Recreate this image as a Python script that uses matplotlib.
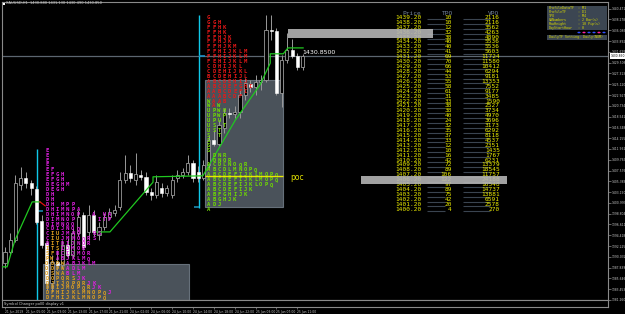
import matplotlib
matplotlib.use('Agg')
import matplotlib.pyplot as plt
from matplotlib.patches import Rectangle, Circle

# XAUUSD H1 bars (bar 0 = 21 Jun 01:00)
opens = [1388.8, 1391.0, 1393.5, 1404.6, 1406.1, 1405.0, 1403.8, 1397.3, 1392.8, 1384.7,
         1389.0, 1388.4, 1392.4, 1390.4, 1394.9, 1398.5, 1395.1, 1398.5, 1394.5, 1396.1,
         1398.1, 1398.9, 1400.2, 1405.7, 1407.1, 1405.7, 1406.7, 1406.3, 1403.2, 1402.6,
         1404.0, 1403.0, 1402.6, 1406.1, 1406.7, 1407.3, 1409.1, 1407.3, 1406.1, 1408.7,
         1413.8, 1412.9, 1416.2, 1419.3, 1419.1, 1419.5, 1422.9, 1425.2, 1424.6, 1425.6,
         1426.0, 1436.1, 1435.9, 1423.3, 1430.0, 1432.1, 1430.9, 1428.6]
highs = [1392.0, 1394.9, 1406.7, 1408.3, 1407.3, 1405.7, 1404.4, 1398.5, 1393.5, 1390.4,
         1391.4, 1393.5, 1393.9, 1395.9, 1399.6, 1399.1, 1400.6, 1399.6, 1397.1, 1398.9,
         1400.0, 1400.6, 1407.3, 1410.7, 1408.7, 1411.1, 1407.7, 1407.3, 1404.0, 1406.7,
         1405.0, 1404.6, 1406.7, 1407.7, 1408.1, 1410.7, 1409.7, 1408.5, 1409.7, 1414.8,
         1415.8, 1417.8, 1420.3, 1420.3, 1420.7, 1423.9, 1426.4, 1426.0, 1427.0, 1427.0,
         1439.2, 1439.2, 1436.5, 1431.0, 1435.5, 1434.3, 1431.5, 1431.3]
lows = [1387.8, 1390.6, 1393.1, 1403.6, 1404.0, 1402.6, 1396.7, 1391.8, 1383.3, 1382.9,
        1387.4, 1387.8, 1389.8, 1389.8, 1394.3, 1391.4, 1393.5, 1394.3, 1393.5, 1395.5,
        1397.5, 1398.3, 1399.6, 1405.0, 1405.2, 1404.6, 1405.7, 1402.6, 1401.6, 1402.0,
        1402.2, 1402.4, 1402.0, 1405.2, 1406.1, 1406.7, 1405.2, 1405.2, 1405.7, 1408.1,
        1412.5, 1412.5, 1415.2, 1418.3, 1418.3, 1418.3, 1421.9, 1423.5, 1422.9, 1423.9,
        1425.6, 1434.1, 1422.9, 1420.5, 1429.4, 1430.4, 1428.0, 1428.0]
closes = [1391.0, 1393.5, 1405.0, 1406.1, 1405.0, 1404.0, 1397.1, 1392.4, 1384.7, 1389.0,
          1388.4, 1392.4, 1390.4, 1394.9, 1398.1, 1392.0, 1398.5, 1395.1, 1396.1, 1398.1,
          1399.1, 1399.6, 1405.7, 1407.1, 1406.1, 1406.9, 1406.3, 1403.2, 1402.6, 1405.2,
          1403.0, 1404.0, 1405.7, 1406.7, 1407.3, 1409.1, 1406.1, 1406.1, 1408.7, 1413.8,
          1412.9, 1416.8, 1419.3, 1419.1, 1419.5, 1422.9, 1425.4, 1424.6, 1425.6, 1426.0,
          1436.1, 1435.9, 1423.3, 1430.0, 1432.1, 1430.9, 1428.6, 1430.85]
last_price = 1430.85

time_ticks = [0, 4, 8, 12, 16, 20, 24, 28, 32, 36, 40, 44, 48, 52, 56]
time_labels = ['21 Jun 2019', '21 Jun 05:00', '21 Jun 09:00', '21 Jun 13:00', '21 Jun 17:00',
               '21 Jun 21:00', '24 Jun 02:00', '24 Jun 06:00', '24 Jun 10:00', '24 Jun 14:00',
               '24 Jun 18:00', '24 Jun 22:00', '25 Jun 03:00', '25 Jun 07:00', '25 Jun 11:00']
price_ticks = [1381.260, 1383.453, 1385.646, 1387.839, 1390.032, 1392.225, 1394.418,
               1396.611, 1398.804, 1400.997, 1403.190, 1405.383, 1407.576, 1409.769,
               1411.962, 1414.155, 1416.348, 1418.541, 1420.734, 1422.927, 1425.120,
               1427.313, 1429.506, 1431.699, 1433.892, 1436.085, 1438.278, 1440.471]

# trailing line (green), short red piece
trail_a_x = [-0.6, 0.4, 1.9, 5.2, 6.7]
trail_a_y = [1388.0, 1388.0, 1393.4, 1401.2, 1401.2]
trail_red_x = [6.7, 7.7]
trail_red_y = [1401.2, 1400.4]
trail_b_x = [17.6, 20.1, 28.35, 28.35, 37.9, 44.1, 48.85, 50.8, 50.8, 53.3, 54.2, 57.1]
trail_b_y = [1395.1, 1395.1, 1405.2, 1406.3, 1406.5, 1417.8, 1425.0, 1429.4, 1431.3,
             1431.3, 1432.5, 1432.5]

# market profile letters: left day (upper = magenta, lower = orange)
left_top = 1412.2
left_col0 = 8
left_rows = ['E', 'E', 'E', 'E', 'EF', 'EFGH', 'EFGH', 'DEGHM', 'DEGH', 'DH', 'DH',
             'DH MPP', 'DHIMNPA', 'DHIMNOP  A UA', 'DIMNOP    ITP', 'DIMNOQ', 'CDIJNOQ',
             'CiuJMNO  RS', 'CiuJMNOQRS', 'DitDIJNOR', 'itsIJMOR', 'sfBCIJMOR',
             'pwABJKLMQ', 'odpwABJKLM', 'odpwADLM', 'oswaBLM', 'dopqrsJK',
             'djijopqrJK', 'dhijmopqrJK', 'dfhijklmnopqJ', 'dfhijklmnopq']
# right day (upper = red, lower = green)
right_top = 1439.2
right_col0 = 39
right_rows = ['G', 'GGH', 'FFHK', 'FFHK', 'FFHJK', 'FFHJK', 'FFHJKM', 'FFHIJKLM',
              'FFHIJKLM', 'FEHIJKLM', 'CDHIJKL', 'CDEHIJKL', 'BCDEHIJL', 'ABCDEHIJ',
              'ABCDEFGHI', 'AABCDEFI', 'AAABCDF', 'wAAB', 'wAw', 'upwh', 'upwp', 'upu',
              'us t', 'ust', 's t', 's', 's', 's', ' dnr', ' dnqr', 'acdlnoqr',
              'abcdlmnopq', 'abcdefijklmopq', 'abcdefijklmopq', 'abcdefijklopq',
              'abcdefijk', 'abfghijk', 'abghjk', 'adj', 'a']

# value areas (bar from, bar to, price low, price high)
va_left = (7.3, 35.2, 1381.26, 1388.6)
va_right = (38.3, 53.3, 1400.16, 1425.97)
poc_price = 1406.45

# profile table
tbl_price = [1439.20, 1438.20, 1437.20, 1436.20, 1435.20, 1434.20, 1433.20, 1432.20,
             1431.20, 1430.20, 1429.20, 1428.20, 1427.20, 1426.20, 1425.20, 1424.20,
             1423.20, 1422.20, 1421.20, 1420.20, 1419.20, 1418.20, 1417.20, 1416.20,
             1415.20, 1414.20, 1413.20, 1412.20, 1411.20, 1410.20, 1409.20, 1408.20,
             1407.20, 1406.20, 1405.20, 1404.20, 1403.20, 1402.20, 1401.20, 1400.20]
tbl_tpo = [10, 10, 12, 32, 38, 40, 40, 41, 69, 70, 66, 44, 53, 55, 58, 61, 31, 33, 38, 38,
           40, 24, 32, 35, 37, 33, 12, 10, 16, 42, 72, 89, 106, 122, 97, 89, 75, 42, 20, 4]
tbl_vpo = [2116, 2116, 3562, 4263, 4890, 5536, 5536, 5603, 11724, 11580, 10412, 6294,
           9181, 13353, 7552, 9177, 3485, 1590, 2527, 3734, 4970, 3696, 3173, 6292, 8118,
           4537, 2351, 1435, 1767, 6231, 13379, 18545, 11757, 24188, 16548, 14737, 13881,
           6591, 2578, 270]

info_keys = ['ProfileDataTF', 'ProfileTF', 'TPO', 'VANumbers', 'RowHeight', 'DayStartHour']
info_vals = [': M1', ': D1', ': M4', ': 2 Bar(s)', ': 10 Pip(s)', ': 0']
dot_colors = ['#3050ff', '#ff20a0', '#3050ff', '#3050ff', '#ff20a0', '#3050ff']

W, H = 625, 314
fig = plt.figure(figsize=(6.25, 3.14), dpi=100, facecolor='black')


def fx(px):
    return px / W


def fy(py):
    return 1 - py / H


ax = fig.add_axes([fx(2), fy(300), fx(606), 298 / H])
ax.set_facecolor('black')
ax.set_xlim(-0.575, 115.5)
ax.set_ylim(1381.26, 1441.83)
for s in ax.spines.values():
    s.set_color('#8a8a8a')
    s.set_linewidth(0.8)
ax.set_xticks([])
ax.yaxis.tick_right()
ax.set_yticks(price_ticks)
ax.set_yticklabels(['%.3f' % v for v in price_ticks])
ax.tick_params(axis='y', colors='#8a8a8a', labelcolor='#c8c8c8', labelsize=2.2,
               length=2, width=0.5, pad=0.8)

# value area boxes
for x0, x1, y0, y1 in (va_left, va_right):
    ax.add_patch(Rectangle((x0, y0), x1 - x0, y1 - y0, facecolor='#4a525a',
                           edgecolor='#66707a', lw=0.8, zorder=1))

# current price line
ax.axhline(last_price, color='#5c6670', lw=0.9, zorder=2)

# day separators
ax.vlines(37.16, 1399.96, 1439.18, color='#10c8e8', lw=1, zorder=2)
ax.vlines(6.13, 1381.26, 1411.95, color='#10c8e8', lw=1, zorder=2)
ax.hlines(last_price, 37.16, 38.3, color='#1a90c8', lw=1.2, zorder=2)
ax.hlines(1400.16, 36.2, 37.16, color='#1a8ab0', lw=1.2, zorder=2)
ax.hlines(1399.35, 6.3, 7.3, color='#1a8ab0', lw=1.2, zorder=2)

# candles
for i in range(len(opens)):
    o, h, l, c = opens[i], highs[i], lows[i], closes[i]
    ax.vlines(i, l, h, color='#9a9a9a', lw=0.7, zorder=3)
    lo, hi = min(o, c), max(o, c)
    if hi - lo < 0.2:
        hi = lo + 0.2
    if c < o:
        ax.add_patch(Rectangle((i - 0.3, lo), 0.6, hi - lo, facecolor='white',
                               edgecolor='white', lw=0.4, zorder=3))
    else:
        ax.add_patch(Rectangle((i - 0.3, lo), 0.6, hi - lo, facecolor='black',
                               edgecolor='#9a9a9a', lw=0.6, zorder=3))

# trailing line
ax.plot(trail_a_x, trail_a_y, color='#20c820', lw=0.9, zorder=4)
ax.plot(trail_red_x, trail_red_y, color='#e01010', lw=0.9, zorder=4)
ax.plot(trail_b_x, trail_b_y, color='#20c820', lw=0.9, zorder=4)


def draw_profile(rows, top, col0, c_up, c_low):
    for r, s in enumerate(rows):
        p = top - r - 0.5
        for k, ch in enumerate(s):
            if ch == ' ':
                continue
            ax.text(col0 + k, p, ch.upper(), color=c_up if ch.isupper() else c_low,
                    fontsize=4, fontweight='bold', family='DejaVu Sans Mono',
                    ha='center', va='center', zorder=5)


draw_profile(left_rows, left_top, left_col0, '#e020e0', '#e0a020')
draw_profile(right_rows, right_top, right_col0, '#e81818', '#70dc00')

# POC line
ax.hlines(poc_price, va_right[0], va_right[1], color='#e8e800', lw=1, zorder=6)
ax.text(54.6, poc_price - 0.2, 'poc', color='#e0e000', fontsize=5.5, ha='left',
        va='center', zorder=6)

ax.text(57, last_price + 0.2, '1430.8500', color='white', fontsize=4.5, ha='left',
        va='bottom', zorder=6)

# profile table
ax.text(78, 1439.45, 'Price', color='#7888a0', fontsize=4.4, family='DejaVu Sans Mono',
        ha='center', va='center')
ax.text(84.7, 1439.45, 'TPO', color='#7888a0', fontsize=4.4, family='DejaVu Sans Mono',
        ha='center', va='center')
ax.text(93.5, 1439.45, 'VPO', color='#7888a0', fontsize=4.4, family='DejaVu Sans Mono',
        ha='center', va='center')
for p, t, v in zip(tbl_price, tbl_tpo, tbl_vpo):
    y = p - 0.5
    ax.hlines(y - 0.42, 80.8, 84.3, color='#3a4450', lw=0.8, zorder=4)
    ax.hlines(y - 0.42, 87.7, 92.9, color='#3a4450', lw=0.8, zorder=4)
    ax.text(79.7, y, '%.2f' % p, color='#f0f000', fontsize=4.4,
            family='DejaVu Sans Mono', ha='right', va='center', zorder=5)
    ax.text(85.6, y, str(t), color='#f0f000', fontsize=4.4,
            family='DejaVu Sans Mono', ha='right', va='center', zorder=5)
    ax.text(94.8, y, str(v), color='#f0f000', fontsize=4.4,
            family='DejaVu Sans Mono', ha='right', va='center', zorder=5)

# highlighted rows
ax.add_patch(Rectangle((54.2, 1434.5), 82.0 - 54.2, 1.8, facecolor='#b4b4b4',
                       alpha=0.9, lw=0, zorder=7))
ax.add_patch(Rectangle((68.2, 1404.83), 96.2 - 68.2, 1.63, facecolor='#b4b4b4',
                       alpha=0.9, lw=0, zorder=7))

# current price tag on the axis
ax.text(1.004, last_price, '1430.850', transform=ax.get_yaxis_transform(),
        fontsize=2.2, color='black', ha='left', va='center', zorder=8,
        bbox=dict(facecolor='white', edgecolor='none', pad=0.4))

# sub window
ax2 = fig.add_axes([fx(2), fy(307), fx(606), 7 / H])
ax2.set_facecolor('black')
ax2.set_xlim(ax.get_xlim())
ax2.set_ylim(0, 1)
for s in ax2.spines.values():
    s.set_color('#8a8a8a')
    s.set_linewidth(0.8)
ax2.set_yticks([])
ax2.set_xticks(time_ticks)
ax2.set_xticklabels(time_labels, ha='left')
ax2.tick_params(axis='x', colors='#8a8a8a', labelcolor='#c8c8c8', labelsize=2.2,
                length=1.5, width=0.5, pad=1)
ax2.text(0.003, 0.5, 'Symbol Changer poll0 display v1', transform=ax2.transAxes,
         color='#d0d0d0', fontsize=2.6, ha='left', va='center')

# chart title
fig.patches.append(Rectangle((fx(2.5), fy(5)), fx(2), 2 / H, transform=fig.transFigure,
                             facecolor='white'))
fig.text(fx(6), fy(3.5), 'XAUUSD,H1  1430.880 1431.130 1430.490 1430.850', color='#d0d0d0',
         fontsize=2.6, ha='left', va='center')

# settings panel
fig.patches.append(Rectangle((fx(547), fy(30)), fx(60), 24 / H, transform=fig.transFigure,
                             facecolor='#3c4652'))
fig.patches.append(Rectangle((fx(547), fy(39.5)), fx(60), 5 / H, transform=fig.transFigure,
                             facecolor='#3c4652'))
for k, (key, val) in enumerate(zip(info_keys, info_vals)):
    yy = 8 + 4 * k
    fig.text(fx(549), fy(yy), key, color='#d8d800', fontsize=2.4, ha='left', va='center',
             family='DejaVu Sans Mono')
    fig.text(fx(578), fy(yy), val, color='#d8d800', fontsize=2.4, ha='left', va='center',
             family='DejaVu Sans Mono')
for k, col in enumerate(dot_colors):
    fig.patches.append(Circle((fx(579 + 5 * k), fy(32.5)), 1.6 / W, transform=fig.transFigure,
                              facecolor=col, edgecolor='none'))
fig.text(fx(549), fy(37.2), 'DailyTF Setting: Daily(NUM)', color='#d8d800', fontsize=2.4,
         ha='left', va='center', family='DejaVu Sans Mono')

fig.savefig('out.png', dpi=100, facecolor='black')
